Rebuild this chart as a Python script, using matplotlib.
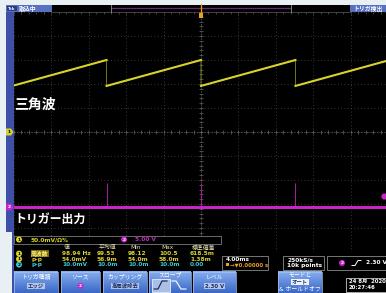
import numpy as np
import matplotlib.pyplot as plt
from matplotlib.patches import Rectangle, Circle, Polygon
from matplotlib.colors import LinearSegmentedColormap

plt.rcParams['font.family'] = ['DejaVu Sans', 'Noto Sans CJK JP']

# ---- data ----
# ch1 : sawtooth ("triangle") wave, time in ms, value in mV
ch1_t = [-20.0, -10.1, -10.1, 0.0, 0.0, 10.1, 10.1, 20.0]
ch1_mv = [97, 150, 96, 150, 96, 150, 96, 149]
ch1_scale = 50.0      # mV/div
ch1_offset = 0.0      # div

# ch2 : trigger output, time in ms, value in V
ch2_t = [-20.0, 20.0]
ch2_v = [0.0, 0.0]
ch2_spike_t = [-10.1, 0.0, 10.1]
ch2_spike_v = [5.0, 5.0, 5.0]
ch2_scale = 5.0       # V/div
ch2_offset = -3.125   # div
trig_level = 2.30     # V

time_per_div = 4.0    # ms

meas_headers = ['値', '平均値', 'Min', 'Max', '標準偏差']
meas_src = ['1', '1', '2']
meas_names = ['周波数', 'p-p', 'p-p']
meas_rows = [['98.94 Hz', '99.53', '98.12', '100.5', '618.5m'],
             ['54.0mV', '56.9m', '54.0m', '58.0m', '1.38m'],
             ['10.0mV', '10.0m', '10.0m', '10.0m', '0.00']]

YEL = '#d8d22c'
MAG = '#c824c8'
CYAN = '#3cc8d0'
LIGHT = '#e8f0f4'
BAR = '#3d4fa6'

fig = plt.figure(figsize=(3.86, 2.93), dpi=100)
fig.patch.set_facecolor('black')

# ---- graticule + traces (x in ms, y in divisions) ----
ax = fig.add_axes([14 / 386, 41 / 293, 374 / 386, 240 / 293])
ax.set_facecolor('black')
ax.set_xlim(-5 * time_per_div, 5 * time_per_div)
ax.set_ylim(-5, 5)
for s in ax.spines.values():
    s.set_visible(False)
ax.set_xticks([])
ax.set_yticks([])

for x in np.arange(-20, 20.1, time_per_div):
    ax.axvline(x, color='#4a4a4a', lw=0.6, ls=(0, (1, 3)), zorder=1)
for y in range(-5, 6):
    ax.axhline(y, color='#4a4a4a', lw=0.6, ls=(0, (1, 3)), zorder=1)
ax.axvline(0, color='#6a6a6a', lw=0.6, ls=(0, (1, 2)), zorder=1)
ax.axhline(0, color='#6a6a6a', lw=0.6, ls=(0, (1, 2)), zorder=1)
xt = np.arange(-20, 20.01, 0.8)
ax.plot(xt, np.zeros_like(xt), ls='none', marker='|', ms=2.5, mew=0.5, color='#6a6a6a', zorder=1)
yt = np.arange(-5, 5.01, 0.2)
ax.plot(np.zeros_like(yt), yt, ls='none', marker='_', ms=2.5, mew=0.5, color='#6a6a6a', zorder=1)
ax.plot(xt, np.full_like(xt, 4.97), ls='none', marker='|', ms=2, mew=0.5, color='#5a5a5a', zorder=1)

# ch1
ch1_y = np.array(ch1_mv) / ch1_scale + ch1_offset
ax.plot(ch1_t, ch1_y, color='#8a8620', lw=0.6, zorder=3)
for i in range(0, len(ch1_t), 2):
    ax.plot(ch1_t[i:i + 2], ch1_y[i:i + 2], color=YEL, lw=1.5, zorder=4)

# ch2
ax.vlines(ch2_spike_t, ch2_offset, ch2_offset + np.array(ch2_spike_v) / ch2_scale,
          color='#9a209a', lw=0.8, zorder=3)
ax.plot(ch2_t, np.array(ch2_v) / ch2_scale + ch2_offset, color=MAG, lw=2.2, zorder=4)
ax.plot(19.6, ch2_offset + trig_level / ch2_scale, 'o', ms=3.5, color=MAG, clip_on=False, zorder=5)

# ---- overlay in pixel coordinates ----
ov = fig.add_axes([0, 0, 1, 1])
ov.set_facecolor('none')
ov.axis('off')


def rect(x, y, w, h, fc, ec='none', lw=0.6, z=2):
    ov.add_patch(Rectangle((x, y), w, h, fc=fc, ec=ec, lw=lw, zorder=z))


def txt(x, y, s, size=4.2, color='white', ha='left', weight='bold', **kw):
    ov.text(x, y, s, fontsize=size, color=color, ha=ha, va='center', weight=weight, zorder=6, **kw)


def badge(x, y, s, fc, tc='black', r=3.0):
    ov.add_patch(Circle((x, y), r, fc=fc, ec='none', zorder=5))
    txt(x, y + 0.2, s, size=3.2, color=tc, ha='center')


# light frame
rect(0, 0, 386, 5, LIGHT, z=1)
rect(0, 0, 6, 293, LIGHT, z=1)
rect(0, 232, 12, 61, LIGHT, z=1)
rect(12, 232, 2, 61, BAR, z=1)
rect(6, 5, 8, 227, BAR, z=1)

# top bar
rect(6, 5, 46, 7, '#5870c0')
rect(7, 6, 10, 5, '#2c3c80')
txt(12, 8.6, 'Tek', size=2.8, ha='center')
txt(19, 8.6, '取込中', size=4.2)
ov.plot([52, 350], [11.6, 11.6], color='#555555', lw=0.5, zorder=3)
ov.plot([111, 290], [7.5, 7.5], color='#6a2a7a', lw=0.9, zorder=3)
ov.plot([111, 111], [5, 12], color='#909090', lw=0.6, zorder=3)
ov.plot([291, 291], [5, 12], color='#909090', lw=0.6, zorder=3)
rect(350, 5, 36, 7, '#5870c0')
txt(368, 8.6, 'トリガ検出', size=4.2, ha='center')

# trigger position marker
ov.plot([201, 201], [4, 13], color='#f0a020', lw=0.9, zorder=5)
rect(199, 12.5, 4, 5.5, '#f0a020', z=5)

# channel markers on the left bar
ov.add_patch(Polygon([(6, 128.5), (11, 128.5), (13.5, 132), (11, 135.5), (6, 135.5)], fc=YEL, zorder=5))
txt(9, 132.2, '1', size=3.2, color='black', ha='center')
ov.add_patch(Polygon([(6, 203.5), (11, 203.5), (13.5, 207), (11, 210.5), (6, 210.5)], fc=MAG, zorder=5))
txt(9, 207.2, '2', size=3.2, color='white', ha='center')

# labels on the screen
txt(14.5, 105, '三角波', size=10, family=['Noto Sans CJK JP'])
txt(14, 219, 'トリガー出力', size=8.6, family=['Noto Sans CJK JP'])

# channel scale row
rect(14, 235.5, 207, 8, 'black', ec='#7a7a7a', z=3)
badge(19, 239.5, '1', YEL)
txt(31, 239.6, '50.0mV/Ω%', color=YEL)
badge(124, 239.5, '2', MAG, tc='white')
txt(135, 239.6, '5.00 V', color=MAG)

# measurement table
rect(14, 243.5, 207, 27, 'black', z=2)
col_x = [62, 97, 128, 159, 190]
for cx, h in zip(col_x, meas_headers):
    txt(cx + 2, 247.8, h, color='#e6e2b4', weight='normal')
row_y = [253.6, 259.1, 264.6]
for ry, src, name, vals in zip(row_y, meas_src, meas_names, meas_rows):
    c = YEL if src == '1' else CYAN
    badge(19, ry, src, c)
    if name == '周波数':
        txt(31, ry, name, color='#fff27a', bbox=dict(fc='#7a6a10', ec='none', pad=0.3))
    else:
        txt(31, ry, name, color=c)
    for cx, v in zip(col_x, vals):
        txt(cx, ry, v, color=c)

# readout boxes
rect(222, 256, 46, 14, 'black', ec='#8a8a8a', z=3)
txt(226, 259.6, '4.00ms')
rect(225.5, 262.6, 3.5, 3.5, '#f0a020', z=4)
txt(229.5, 264.6, '→▼0.00000 s', size=3.9, color='#f0a020')
rect(283, 256, 41, 14, 'black', ec='#8a8a8a', z=3)
txt(287, 259.6, '250kS/s')
txt(287, 265.4, '10k points')
rect(327, 256, 59, 14, 'black', ec='#8a8a8a', z=3)
badge(342, 263, '2', MAG, tc='white')
ov.plot([352, 355, 358, 361], [265.5, 265.5, 260.5, 260.5], color='white', lw=0.7, zorder=5)
txt(366, 263, '2.30 V')

# soft-key buttons
btn_cmap = LinearSegmentedColormap.from_list('btn', ['#86aef0', '#3c68c6'])
grad = np.linspace(0, 1, 32).reshape(-1, 1)


def button(x0, x1, y0=271.5, y1=293):
    ov.imshow(grad, extent=(x0, x1, y1, y0), cmap=btn_cmap, aspect='auto', zorder=2)
    rect(x0, y0, x1 - x0, y1 - y0, 'none', ec='#a8c4f4', lw=0.5, z=3)


def chip(x, y, s, fc='#b4c4e4', tc='#1c2c66'):
    txt(x, y, s, size=3.9, color=tc, ha='center', bbox=dict(fc=fc, ec='none', pad=0.4))


button(14, 58)
txt(36, 277, 'トリガ種類', ha='center', weight='normal')
chip(36, 286, 'エッジ')
button(61, 100)
txt(80.5, 277, 'ソース', ha='center', weight='normal')
badge(80.5, 286, '2', MAG, tc='white')
button(103, 147)
txt(125, 277, 'カップリング', ha='center', weight='normal')
chip(125, 286, '高周波除去')
button(149, 191)
txt(170, 274.8, 'スロープ', ha='center', weight='normal')
rect(151.5, 278.5, 18, 13.5, '#a9bfe6', ec='#e8eefa', lw=0.6, z=3)
ov.plot([154, 158, 162, 167], [289, 289, 281, 281], color='#10204c', lw=0.8, zorder=5)
ov.plot([172, 176, 181, 186], [281, 281, 289, 289], color='white', lw=0.8, zorder=5)
button(193, 236)
txt(214.5, 277, 'レベル', ha='center', weight='normal')
chip(214.5, 286, '2.30 V')
button(278, 322)
txt(300, 275.2, 'モードと', ha='center', weight='normal')
chip(300, 282, 'オート', fc='#eef2fa')
txt(300, 289, '& ホールドオフ', ha='center', weight='normal')

rect(346, 277.5, 40, 14.5, 'black', ec='#c8c8c8', z=3)
txt(349, 281.6, '24 8月  2020', size=3.9)
txt(349, 287.6, '20:27:46', size=3.9)

ov.set_xlim(0, 386)
ov.set_ylim(293, 0)
ov.set_aspect('auto')

fig.savefig('out.png', dpi=100, facecolor=fig.get_facecolor())
